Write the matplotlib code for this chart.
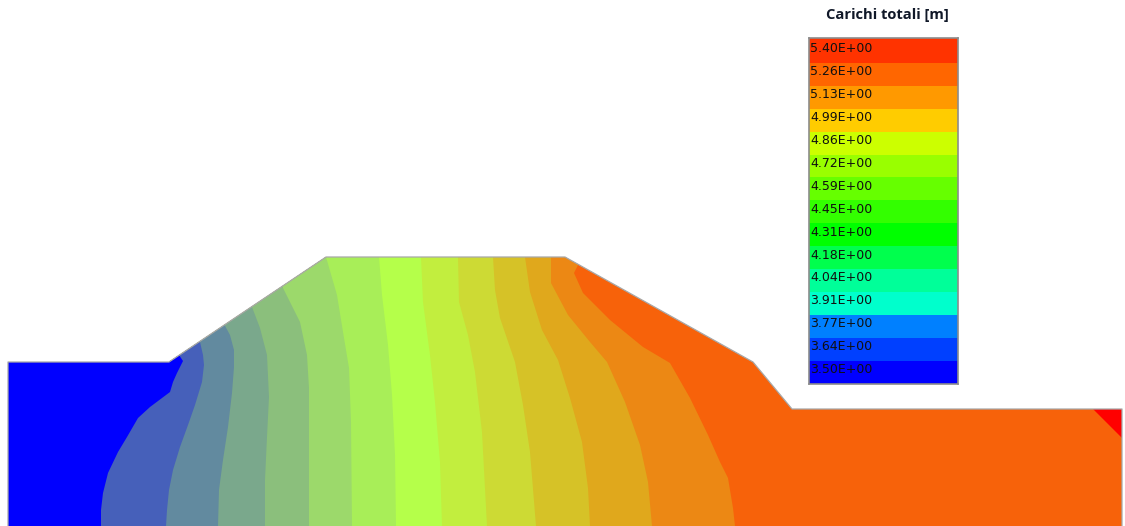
import matplotlib
matplotlib.use("Agg")
import matplotlib.pyplot as plt
from matplotlib.patches import Polygon

# dam section outline, in image units (lower edge is cut off by the picture)
outline_x = [8, 169, 326, 565, 753, 792, 1122, 1122, 8]
outline_y = [362, 362, 257, 257, 362, 409, 409, 526, 526]
edge_x = [8, 8, 169, 326, 565, 753, 792, 1122, 1122]
edge_y = [526, 362, 362, 257, 257, 362, 409, 409, 526]

# contour lines, left to right (top on the surface, bottom on the lower edge)
c1 = [(179, 355), (183, 361), (177, 373), (173, 382), (170, 392), (162, 398), (150, 407), (138, 418), (127, 437), (118, 452), (108, 473), (103, 493), (101, 510), (101, 526)]
c2 = [(200, 342), (203, 355), (204, 365), (202, 382), (195, 405), (188, 425), (180, 447), (173, 470), (169, 490), (167, 510), (166, 526)]
c3 = [(224, 324), (230, 335), (234, 350), (234, 367), (232, 393), (228, 427), (223, 460), (219, 490), (218, 526)]
c4 = [(252, 307), (260, 328), (267, 355), (269, 397), (267, 437), (265, 480), (265, 526)]
c5 = [(283, 288), (300, 322), (307, 355), (309, 388), (309, 526)]
c6 = [(326, 257), (337, 295), (343, 332), (349, 368), (351, 422), (352, 526)]
c7 = [(379, 257), (382, 295), (388, 345), (392, 395), (395, 455), (396, 526)]
c8 = [(421, 257), (423, 302), (430, 355), (435, 402), (440, 462), (442, 526)]
c9 = [(458, 257), (459, 302), (468, 335), (475, 372), (482, 432), (487, 526)]
c10 = [(493, 257), (495, 290), (500, 318), (515, 362), (523, 405), (530, 452), (536, 526)]
c11 = [(525, 257), (530, 292), (542, 330), (558, 360), (570, 398), (582, 442), (588, 488), (590, 526)]
c12 = [(551, 257), (551, 283), (568, 315), (590, 342), (607, 362), (625, 402), (640, 445), (648, 482), (652, 526)]
c13 = [(578, 265), (574, 273), (583, 293), (610, 320), (643, 347), (670, 363), (690, 398), (708, 435), (720, 462), (728, 478), (733, 508), (735, 526)]
contours = [c1, c2, c3, c4, c5, c6, c7, c8, c9, c10, c11, c12, c13]

# band colours, one left of each contour, then the last one
band_colors = ["#0000ff", "#4660ba", "#628a9f", "#7aa88c", "#8bbf7c", "#9cd96b", "#a8ee58",
               "#b5ff4a", "#c2ee3e", "#cdda34", "#d6c227", "#e0a81c", "#ec8814"]
last_band_color = "#f7620a"
corner_x = [1093, 1122, 1122]
corner_y = [409, 438, 409]

legend_labels = ["5.40E+00", "5.26E+00", "5.13E+00", "4.99E+00", "4.86E+00", "4.72E+00", "4.59E+00", "4.45E+00",
                 "4.31E+00", "4.18E+00", "4.04E+00", "3.91E+00", "3.77E+00", "3.64E+00", "3.50E+00"]
legend_colors = ["#ff3300", "#ff6600", "#ff9900", "#ffcc00", "#ccff00", "#99ff00", "#66ff00", "#33ff00",
                 "#00ff00", "#00ff4d", "#00ff99", "#00ffcc", "#0080ff", "#0040ff", "#0000ff"]

fig = plt.figure(figsize=(11.25, 5.26), dpi=100)
ax = fig.add_axes([0, 0, 1, 1])
ax.set_xlim(0, 1125)
ax.set_ylim(526, 0)
ax.axis("off")

section = Polygon(list(zip(outline_x, outline_y)), closed=True, facecolor=last_band_color, edgecolor="none", zorder=1)
ax.add_patch(section)

# paint from the right, each band fills everything left of its contour
for line, color in reversed(list(zip(contours, band_colors))):
    xs = [0, line[0][0]] + [p[0] for p in line] + [0]
    ys = [0, 0] + [p[1] for p in line] + [526]
    band = ax.fill(xs, ys, color=color, linewidth=0, zorder=2)[0]
    band.set_clip_path(section)

ax.fill(corner_x, corner_y, color="#ff0000", linewidth=0, zorder=3)
ax.plot(edge_x, edge_y, color="#a8a8a8", lw=0.9, zorder=4)

# legend, first band is a bit taller than the others
lax = fig.add_axes([809 / 1125, 1 - 384 / 526, 149 / 1125, 346 / 526])
lax.set_facecolor(legend_colors[0])
lax.barh(range(len(legend_labels)), 1, height=1, color=legend_colors, left=0)
lax.set_xlim(0, 1)
lax.set_ylim(14.52, -0.59)
lax.set_xticks([])
lax.set_yticks([])
for spine in lax.spines.values():
    spine.set_color("#8c8c8c")
    spine.set_linewidth(1.2)
for i, label in enumerate(legend_labels):
    lax.text(0.008, i - 0.11, label, ha="left", va="center", fontsize=9, color="#101010", family="DejaVu Sans")

fig.text(887.5 / 1125, 1 - 15 / 526, "Carichi totali [m]", ha="center", va="center", fontsize=10.6,
         fontweight="bold", color="#101828", family="Open Sans")

fig.savefig("out.png", dpi=100)
